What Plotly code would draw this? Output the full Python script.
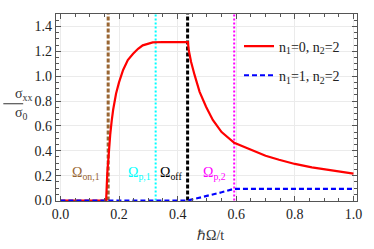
import plotly.graph_objects as go

# ---- data ----
omega_red = [0.0, 0.156, 0.160, 0.165, 0.170, 0.175, 0.180, 0.190, 0.200, 0.214, 0.230, 0.248,
             0.265, 0.281, 0.300, 0.315, 0.350, 0.434, 0.435, 0.438, 0.446, 0.458, 0.475, 0.497,
             0.520, 0.550, 0.593, 0.634, 0.700, 0.746, 0.800, 0.858, 0.900, 0.973, 1.000]
sigma_red = [0.0, 0.0, 0.22, 0.40, 0.53, 0.64, 0.73, 0.86, 0.95, 1.05, 1.13, 1.18,
             1.22, 1.248, 1.265, 1.272, 1.275, 1.275, 1.274, 1.208, 1.114, 1.008, 0.874, 0.754,
             0.648, 0.55, 0.464, 0.424, 0.36, 0.328, 0.294, 0.266, 0.25, 0.226, 0.216]

omega_blue = [0.0, 0.434, 0.470, 0.510, 0.550, 0.593, 1.0]
sigma_blue = [0.0, 0.0, 0.020, 0.042, 0.066, 0.094, 0.094]

omega_on1 = 0.163
omega_p1 = 0.325
omega_off = 0.434
omega_p2 = 0.593

legend_names = ["n<sub>1</sub>=0, n<sub>2</sub>=2", "n<sub>1</sub>=1, n<sub>2</sub>=2"]
marker_labels = ["Ω<sub>on,1</sub>", "Ω<sub>p,1</sub>", "Ω<sub>off</sub>", "Ω<sub>p,2</sub>"]
marker_label_x = [0.088, 0.271, 0.376, 0.527]
marker_label_y = 0.215

xticks = [0.0, 0.2, 0.4, 0.6, 0.8, 1.0]
yticks = [0.0, 0.2, 0.4, 0.6, 0.8, 1.0, 1.2, 1.4]

FONT = "Times New Roman, Liberation Serif, serif"
BROWN = "#996633"
CYAN = "#00ffff"
MAGENTA = "#ff00ff"

fig = go.Figure()

ymax = 1.5
vlines = [(omega_on1, BROWN, "4px,2px", 3),
          (omega_p1, CYAN, "2px,2px", 2),
          (omega_off, "black", "4px,2px", 3),
          (omega_p2, MAGENTA, "2px,2px", 2)]
for xv, col, dash, w in vlines:
    fig.add_trace(go.Scatter(x=[xv, xv], y=[0, ymax], mode="lines",
                             line=dict(color=col, width=w, dash=dash),
                             showlegend=False, hoverinfo="skip"))

fig.add_trace(go.Scatter(x=omega_red, y=sigma_red, mode="lines", name=legend_names[0],
                         line=dict(color="#ff0000", width=2.2), legendgroup="a"))
fig.add_trace(go.Scatter(x=omega_blue, y=sigma_blue, mode="lines", name=legend_names[1],
                         line=dict(color="#0000ff", width=2.2, dash="5px,3px"), legendgroup="b"))

label_colors = [BROWN, CYAN, "black", MAGENTA]
for txt, xv, col in zip(marker_labels, marker_label_x, label_colors):
    fig.add_annotation(x=xv, y=marker_label_y, text=txt, showarrow=False,
                       font=dict(family=FONT, size=14, color=col), xref="x", yref="y")

# y-axis fraction title
fig.add_annotation(x=-0.142, y=0.572, xref="paper", yref="paper", showarrow=False,
                   text="σ<sub>xx</sub>", font=dict(family=FONT, size=14, color="#333"))
fig.add_annotation(x=-0.142, y=0.468, xref="paper", yref="paper", showarrow=False,
                   text="σ<sub>0</sub>", font=dict(family=FONT, size=14, color="#333"))
fig.add_shape(type="line", xref="paper", yref="paper", x0=-0.175, x1=-0.109, y0=0.52, y1=0.52,
              line=dict(color="#333", width=1))
# x-axis title
fig.add_annotation(x=0.512, y=-0.182, xref="paper", yref="paper", showarrow=False,
                   text="ℏΩ/t", font=dict(family=FONT, size=14, color="#333"), yanchor="middle")

axis_common = dict(showline=True, linecolor="#555", linewidth=1.2, mirror="allticks",
                   ticks="inside", ticklen=5, tickcolor="#555", tickwidth=1,
                   showgrid=True, gridcolor="#ebebeb", gridwidth=1, zeroline=False,
                   tickfont=dict(family=FONT, size=14, color="#222"))

fig.update_xaxes(range=[-0.015, 1.012], tickvals=xticks, tickformat=".1f",
                 minor=dict(dtick=0.05, tick0=0, ticks="inside", ticklen=3, tickcolor="#555",
                            showgrid=False),
                 **axis_common)
fig.update_yaxes(range=[-0.004, 1.5], tickvals=yticks, tickformat=".1f",
                 minor=dict(dtick=0.05, tick0=0, ticks="inside", ticklen=3, tickcolor="#555",
                            showgrid=False),
                 **axis_common)

fig.update_layout(width=374, height=249, margin=dict(l=56, r=15, t=14, b=48),
                  plot_bgcolor="white", paper_bgcolor="white",
                  font=dict(family=FONT),
                  legend=dict(x=0.608, y=0.912, xanchor="left", yanchor="top",
                              bgcolor="rgba(0,0,0,0)", tracegroupgap=8,
                              font=dict(family=FONT, size=14, color="#222")),
                  showlegend=True)

fig.write_html("out.html", config={"displayModeBar": False},
               post_script="document.body.style.margin='0';document.body.style.padding='0';")
